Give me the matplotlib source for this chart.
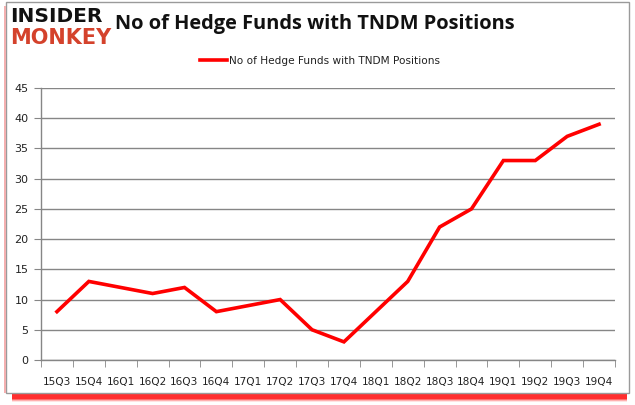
import matplotlib
matplotlib.use("Agg")
import matplotlib.pyplot as plt
from matplotlib.patches import Rectangle

quarters = ["15Q3", "15Q4", "16Q1", "16Q2", "16Q3", "16Q4", "17Q1", "17Q2", "17Q3",
            "17Q4", "18Q1", "18Q2", "18Q3", "18Q4", "19Q1", "19Q2", "19Q3", "19Q4"]
funds = [8, 13, 12, 11, 12, 8, 9, 10, 5, 3, 8, 13, 22, 25, 33, 33, 37, 39]
yticks = [0, 5, 10, 15, 20, 25, 30, 35, 40, 45]
series_name = "No of Hedge Funds with TNDM Positions"

W, H = 635, 405
fig = plt.figure(figsize=(W / 100, H / 100), dpi=100)

# red shadow and frame
for i, a in enumerate([0.12, 0.25, 0.45, 0.75]):
    fig.patches.append(Rectangle((12 / W, (3 + i) / H), (627 - 12) / W, (12 - 2 * i) / H,
                                 transform=fig.transFigure, facecolor="#ff1a1a",
                                 alpha=a, edgecolor="none", zorder=0))
fig.patches.append(Rectangle((6 / W, 1 - 393 / H), (629 - 6) / W, (393 - 2) / H,
                             transform=fig.transFigure, facecolor="white",
                             edgecolor="#9a9a9a", linewidth=1.0, zorder=1))
fig.patches.append(Rectangle((4 / W, 1 - 393 / H), 2 / W, (393 - 6) / H,
                             transform=fig.transFigure, facecolor="#f4b0b0",
                             edgecolor="none", zorder=1))

ax = fig.add_axes([41 / W, 1 - 360 / H, (615 - 41) / W, (360 - 88) / H])
ax.set_zorder(2)
ax.patch.set_alpha(0)

x = list(range(len(quarters)))
ax.plot(x, funds, color="#ff0000", linewidth=2.6, label=series_name, solid_joinstyle="miter")

ax.set_xlim(-0.5, len(quarters) - 0.5)
ax.set_ylim(0, 45)
ax.set_yticks(yticks)
ax.set_yticklabels([str(v) for v in yticks], fontsize=8, color="#222222")
ax.set_xticks(x)
ax.set_xticklabels(quarters, fontsize=7.6, color="#222222")
ax.set_xticks([i - 0.5 for i in range(len(quarters) + 1)], minor=True)
ax.tick_params(axis="x", which="major", length=0, pad=12)
ax.tick_params(axis="x", which="minor", length=5, color="#868686", direction="out")
ax.tick_params(axis="y", length=5, color="#868686", pad=4)
ax.grid(axis="y", color="#868686", linewidth=1.0)
ax.set_axisbelow(True)
for s in ["top", "right"]:
    ax.spines[s].set_visible(False)
for s in ["left", "bottom"]:
    ax.spines[s].set_color("#868686")
    ax.spines[s].set_linewidth(1.0)

leg = ax.legend(loc="center", bbox_to_anchor=((320 - 41) / (615 - 41), (360 - 61) / (360 - 88)),
                frameon=False, fontsize=7.6, handlelength=2.6, handletextpad=0.2,
                borderaxespad=0)
for t in leg.get_texts():
    t.set_color("#222222")

fig.text(115 / W, 1 - 24 / H, "No of Hedge Funds with TNDM Positions", fontsize=14.4,
         fontweight="bold", family="Open Sans", color="#111111", va="center", ha="left")
fig.text(10 / W, 1 - 16 / H, "INSIDER", fontsize=14.5, fontweight="heavy", family="DejaVu Sans",
         color="#111111", va="center", ha="left")
fig.text(10 / W, 1 - 38 / H, "MONKEY", fontsize=15, fontweight="heavy", family="DejaVu Sans",
         color="#d4422c", va="center", ha="left")

fig.savefig("out.png", dpi=100)
